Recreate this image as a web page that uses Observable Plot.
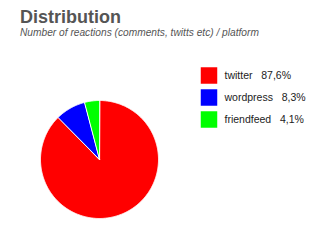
<!DOCTYPE html>
<html>
<head>
<meta charset="utf-8">
<script src="https://cdn.jsdelivr.net/npm/d3@7"></script>
<script src="https://cdn.jsdelivr.net/npm/@observablehq/plot@0.6"></script>
<style>
  html, body { margin: 0; padding: 0; background: #fff; }
  #chart { position: relative; width: 322px; height: 244px; overflow: hidden; font-family: "Liberation Sans", Arial, sans-serif; }
  #title { position: absolute; left: 20px; top: 6px; font-size: 18px; font-weight: bold; color: #555; line-height: 22px; }
  #subtitle { position: absolute; left: 20px; top: 27px; font-size: 10.2px; font-style: italic; color: #555; line-height: 12px; white-space: nowrap; }
  #pie, #legend { position: absolute; }
  #pie { left: 34px; top: 94px; }
  #legend { left: 195px; top: 62px; }
</style>
</head>
<body>
<div id="chart">
  <div id="title">Distribution</div>
  <div id="subtitle">Number of reactions (comments, twitts etc) / platform</div>
  <div id="pie"></div>
  <div id="legend"></div>
</div>
<script>
// Share of reactions per platform, in percent
const platforms = ["twitter", "wordpress", "friendfeed"];
const shares = [87.6, 8.3, 4.1];
const colors = ["#ff0000", "#0000ff", "#00ff00"];

const rows = platforms.map((platform, i) => ({platform, share: shares[i]}));
const fmt = (v) => v.toFixed(1).replace(".", ",") + "%";

// Slice outlines: center point, then the outer arc, from d3.pie angles
// (0 at 12 o'clock, clockwise).
const arcs = d3.pie().sort(null).value((d) => d.share)(rows);
const outline = arcs.flatMap((a) => {
  const n = Math.max(2, Math.ceil((a.endAngle - a.startAngle) / 0.01));
  const pts = [{platform: a.data.platform, x: 0, y: 0}];
  for (let k = 0; k <= n; ++k) {
    const t = a.startAngle + (a.endAngle - a.startAngle) * (k / n);
    pts.push({platform: a.data.platform, x: Math.sin(t), y: Math.cos(t)});
  }
  return pts;
});

const color = {domain: platforms, range: colors};

const pie = Plot.plot({
  width: 130,
  height: 130,
  margin: 6,
  x: {domain: [-1, 1], axis: null},
  y: {domain: [-1, 1], axis: null},
  color,
  style: {background: "transparent", overflow: "visible"},
  marks: [
    Plot.line(outline, {
      x: "x",
      y: "y",
      z: "platform",
      fill: "platform",
      stroke: "#fff",
      strokeWidth: 1,
      strokeLinejoin: "round",
      curve: "linear-closed"
    })
  ]
});
document.getElementById("pie").append(pie);

// Legend: one swatch and label per platform, rows on a band scale
const legend = Plot.plot({
  width: 127,
  height: 70,
  marginTop: 2,
  marginBottom: 2,
  marginLeft: 0,
  marginRight: 0,
  y: {type: "band", domain: platforms, axis: null, padding: 0},
  color,
  style: {
    background: "transparent",
    fontFamily: "'Liberation Sans', Arial, sans-serif",
    fontSize: "10.5px",
    color: "#222",
    overflow: "visible"
  },
  marks: [
    Plot.dot(rows, {
      y: "platform",
      fill: "platform",
      symbol: "square",
      r: 9.3,
      frameAnchor: "left",
      dx: 13.5
    }),
    Plot.text(rows, {
      y: "platform",
      text: (d) => d.platform + "\u00a0\u00a0\u00a0" + fmt(d.share),
      frameAnchor: "left",
      textAnchor: "start",
      dx: 29,
      fill: "#222"
    })
  ]
});
document.getElementById("legend").append(legend);
</script>
</body>
</html>
